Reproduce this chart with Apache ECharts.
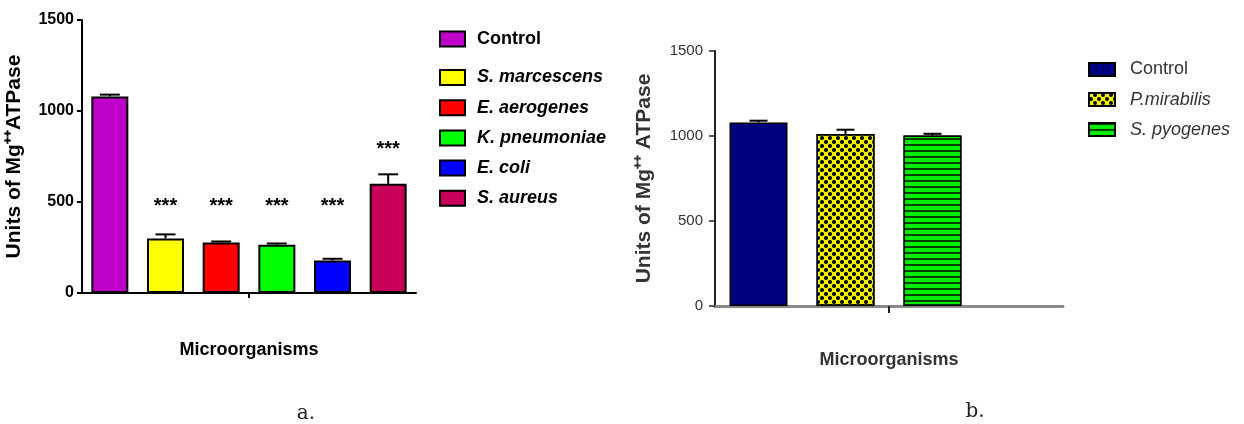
<!DOCTYPE html>
<html>
<head>
<meta charset="utf-8">
<script src="https://cdn.jsdelivr.net/npm/echarts@6/dist/echarts.min.js"></script>
<style>
html,body{margin:0;padding:0;background:#fff;}
#chart{width:1244px;height:424px;}
</style>
</head>
<body>
<div id="chart"></div>
<script>
// ---- Data: panel a ----
const categoriesA = ['Control', 'S. marcescens', 'E. aerogenes', 'K. pneumoniae', 'E. coli', 'S. aureus'];
const valuesA = [1080, 300, 278, 265, 178, 600];
const errorsA = [10, 22, 5, 7, 10, 52];
const starsA = ['', '***', '***', '***', '***', '***'];
const starLevelsA = [0, 475, 475, 475, 475, 790];
const ticksA = [0, 500, 1000, 1500];

// ---- Data: panel b ----
const categoriesB = ['Control', 'P.mirabilis', 'S. pyogenes'];
const valuesB = [1080, 1012, 1003];
const errorsB = [10, 25, 10];
const ticksB = [0, 500, 1000, 1500];

// ---- Styles ----
const colorsA = ['#bf00c8', '#ffff00', '#ff0000', '#00ff00', '#0000ff', '#c8005a'];
const colorsB = ['#00007f', '#f2f200', '#00ee00'];
const FONT = '"Liberation Sans", Arial, sans-serif';
const ZW = '\u200B'; // keeps panel-b series names distinct from panel-a names

const chart = echarts.init(document.getElementById('chart'));

function errRender(capHalf, lw) {
  return function (params, api) {
    const base = api.coord([api.value(0), api.value(1)]);
    const top = api.coord([api.value(0), api.value(2)]);
    return {
      type: 'group',
      children: [
        { type: 'line', shape: { x1: base[0], y1: base[1], x2: base[0], y2: top[1] }, style: { stroke: '#000', lineWidth: lw } },
        { type: 'line', shape: { x1: base[0] - capHalf, y1: top[1], x2: base[0] + capHalf, y2: top[1] }, style: { stroke: '#000', lineWidth: lw } }
      ]
    };
  };
}

// single centre tick under the x axis (GraphPad style)
function midTick(len, lw, color) {
  return function (params) {
    const cs = params.coordSys;
    const x = cs.x + cs.width / 2;
    const y = cs.y + cs.height;
    return { type: 'line', shape: { x1: x, y1: y, x2: x, y2: y + len }, style: { stroke: color, lineWidth: lw } };
  };
}

const starData = [];
starsA.forEach((s, i) => { if (s) starData.push([i, starLevelsA[i]]); });
const starText = starsA.filter(s => s);

const seriesA = categoriesA.map((name, i) => ({
  type: 'bar', name, stack: 'a', xAxisIndex: 0, yAxisIndex: 0,
  barWidth: 37,
  data: valuesA.map((v, j) => (j === i ? v : '-')),
  itemStyle: { color: colorsA[i], borderColor: '#000', borderWidth: 2 }
}));

const decalsB = [
  null,
  { symbol: 'circle', symbolSize: 1, color: '#000', dashArrayX: [[3.5, 3.5], [0, 3.5, 3.5, 0]], dashArrayY: [3.5, 0], rotation: 0 },
  { symbol: 'rect', symbolSize: 1, color: '#053d05', dashArrayX: [1, 0], dashArrayY: [1.6, 3.4], rotation: 0 }
];
const namesB = categoriesB.map(n => n + ZW);

const seriesB = categoriesB.map((name, i) => {
  const st = { color: colorsB[i], borderColor: '#000', borderWidth: 1.5 };
  if (decalsB[i]) st.decal = decalsB[i];
  return {
    type: 'bar', name: namesB[i], stack: 'b', xAxisIndex: 1, yAxisIndex: 1,
    barWidth: 58,
    data: valuesB.map((v, j) => (j === i ? v : '-')),
    itemStyle: st
  };
});

const legendTextA = { fontFamily: FONT, fontWeight: 'bold', fontSize: 18, lineHeight: 17, color: '#000', padding: [0, 0, 0, 7] };

const option = {
  animation: false,
  backgroundColor: '#fff',
  grid: [
    { left: 82, top: 20, width: 334, height: 273 },
    { left: 715, top: 51, width: 348, height: 255 }
  ],
  xAxis: [
    {
      type: 'category', gridIndex: 0, data: categoriesA,
      axisLine: { lineStyle: { color: '#000', width: 2 } },
      axisTick: { show: false },
      axisLabel: { show: false },
      name: 'Microorganisms', nameLocation: 'middle', nameGap: 48,
      nameTextStyle: { fontFamily: FONT, fontWeight: 'bold', fontSize: 18, color: '#000' }
    },
    {
      type: 'category', gridIndex: 1, data: categoriesB.concat(['']),
      axisLine: { lineStyle: { color: '#8a8a8a', width: 3 } },
      axisTick: { show: false },
      axisLabel: { show: false },
      name: 'Microorganisms', nameLocation: 'middle', nameGap: 45,
      nameTextStyle: { fontFamily: FONT, fontWeight: 'bold', fontSize: 18, color: '#333' }
    }
  ],
  yAxis: [
    {
      type: 'value', gridIndex: 0, min: ticksA[0], max: ticksA[ticksA.length - 1], interval: ticksA[1] - ticksA[0],
      axisLine: { show: true, lineStyle: { color: '#000', width: 2 } },
      axisTick: { show: true, length: 5, lineStyle: { color: '#000', width: 2 } },
      splitLine: { show: false },
      axisLabel: { fontFamily: FONT, fontWeight: 'bold', fontSize: 16, color: '#000', margin: 8, formatter: v => String(v) },
      name: 'Units of Mg\u207A\u207AATPase', nameLocation: 'middle', nameRotate: 90, nameGap: 57,
      nameTextStyle: { fontFamily: FONT, fontWeight: 'bold', fontSize: 21, color: '#000' }
    },
    {
      type: 'value', gridIndex: 1, min: ticksB[0], max: ticksB[ticksB.length - 1], interval: ticksB[1] - ticksB[0],
      axisLine: { show: true, lineStyle: { color: '#222', width: 2 } },
      axisTick: { show: true, length: 6, lineStyle: { color: '#222', width: 1.5 } },
      splitLine: { show: false },
      axisLabel: { fontFamily: FONT, fontSize: 15, color: '#333', margin: 12, formatter: v => String(v) },
      name: 'Units of Mg\u207A\u207A ATPase', nameLocation: 'middle', nameRotate: 90, nameGap: 60,
      nameTextStyle: { fontFamily: FONT, fontWeight: 'bold', fontSize: 21, color: '#333' }
    }
  ],
  legend: [
    {
      data: [categoriesA[0]], left: 439, top: 30, orient: 'vertical', padding: 0,
      icon: 'rect', itemWidth: 25, itemHeight: 15,
      textStyle: legendTextA
    },
    {
      data: categoriesA.slice(1).map(n => ({ name: n, textStyle: { fontStyle: 'italic' } })),
      left: 439, top: 68.5, orient: 'vertical', itemGap: 12.2, padding: 0,
      icon: 'rect', itemWidth: 25, itemHeight: 15,
      textStyle: legendTextA
    },
    {
      data: namesB.map((n, i) => ({ name: n, textStyle: { fontStyle: i === 0 ? 'normal' : 'italic' } })),
      left: 1088, top: 60.5, orient: 'vertical', itemGap: 12, padding: 0,
      icon: 'rect', itemWidth: 26, itemHeight: 13,
      formatter: n => n.replace(ZW, ''),
      textStyle: { fontFamily: FONT, fontSize: 18, lineHeight: 17, color: '#333', padding: [0, 0, 0, 10] }
    }
  ],
  series: seriesA.concat([
    {
      type: 'custom', name: 'errA', xAxisIndex: 0, yAxisIndex: 0, z: 5,
      data: valuesA.map((v, i) => [i, v, v + errorsA[i]]),
      encode: { x: 0, y: [1, 2] },
      renderItem: errRender(10, 2)
    },
    {
      type: 'custom', name: 'starsA', xAxisIndex: 0, yAxisIndex: 0, z: 5,
      data: starData,
      encode: { x: 0, y: 1 },
      renderItem: function (params, api) {
        const p = api.coord([api.value(0), api.value(1)]);
        return {
          type: 'text', x: p[0], y: p[1],
          style: {
            text: starText[params.dataIndex], fill: '#000',
            font: 'bold 20px "Liberation Sans", Arial, sans-serif',
            align: 'center', verticalAlign: 'middle', textAlign: 'center', textVerticalAlign: 'middle'
          }
        };
      }
    },
    {
      type: 'custom', name: 'tickA', xAxisIndex: 0, yAxisIndex: 0, z: 5, silent: true,
      data: [[0, 0]], renderItem: midTick(5, 2, '#000')
    }
  ]).concat(seriesB).concat([
    {
      type: 'custom', name: 'errB', xAxisIndex: 1, yAxisIndex: 1, z: 5,
      data: valuesB.map((v, i) => [i, v, v + errorsB[i]]),
      encode: { x: 0, y: [1, 2] },
      renderItem: errRender(9, 2)
    },
    {
      type: 'custom', name: 'tickB', xAxisIndex: 1, yAxisIndex: 1, z: 5, silent: true,
      data: [[0, 0]], renderItem: midTick(7, 2, '#222')
    }
  ]),
  graphic: [
    { type: 'text', x: 306, y: 414, style: { text: 'a.', fill: '#222', font: '20px "DejaVu Serif", serif', align: 'center', verticalAlign: 'middle', textAlign: 'center', textVerticalAlign: 'middle' } },
    { type: 'text', x: 975, y: 412, style: { text: 'b.', fill: '#222', font: '20px "DejaVu Serif", serif', align: 'center', verticalAlign: 'middle', textAlign: 'center', textVerticalAlign: 'middle' } }
  ]
};

chart.setOption(option);
</script>
</body>
</html>
